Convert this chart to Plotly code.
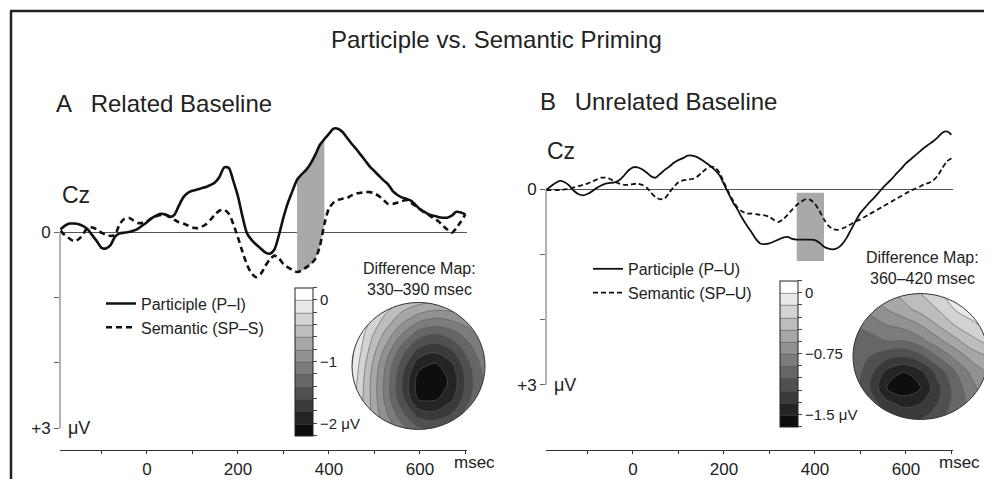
import plotly.graph_objects as go

# the page adds an 8px body margin, so the figure is drawn 16px smaller
PAGE_W, PAGE_H, OFF = 992, 487, 8
W, H = PAGE_W - 2 * OFF, PAGE_H - 2 * OFF

# ---------------- data ----------------
TIME_MS = list(range(-190, 701, 10))

A_PARTICIPLE = [-0.04, -0.10, -0.13, -0.13, -0.12, -0.09, -0.04, 0.05, 0.14, 0.24,
                0.25, 0.20, 0.07, 0.02, 0.01, 0.00, -0.02, -0.05, -0.10, -0.15,
                -0.21, -0.25, -0.28, -0.27, -0.23, -0.26, -0.40, -0.53, -0.60, -0.63,
                -0.65, -0.67, -0.69, -0.72, -0.76, -0.85, -0.99, -0.98, -0.78, -0.55,
                -0.24, 0.02, 0.12, 0.19, 0.25, 0.31, 0.33, 0.27, 0.05, -0.22,
                -0.45, -0.63, -0.80, -0.88, -0.95, -1.05, -1.18, -1.33, -1.42, -1.50,
                -1.58, -1.58, -1.53, -1.44, -1.35, -1.27, -1.18, -1.09, -1.00, -0.93,
                -0.86, -0.79, -0.73, -0.63, -0.57, -0.53, -0.51, -0.48, -0.42, -0.35,
                -0.31, -0.27, -0.25, -0.23, -0.22, -0.22, -0.25, -0.31, -0.30, -0.27]

A_SEMANTIC = [-0.02, 0.05, 0.10, 0.14, 0.11, 0.03, -0.07, -0.07, -0.04, 0.01,
              0.04, 0.06, 0.04, -0.12, -0.20, -0.22, -0.18, -0.14, -0.14, -0.16,
              -0.21, -0.24, -0.26, -0.27, -0.24, -0.19, -0.15, -0.13, -0.10, -0.07,
              -0.06, -0.08, -0.12, -0.19, -0.27, -0.33, -0.34, -0.28, -0.12, 0.08,
              0.30, 0.50, 0.63, 0.69, 0.64, 0.52, 0.42, 0.36, 0.40, 0.49,
              0.54, 0.58, 0.61, 0.59, 0.54, 0.49, 0.41, 0.22, -0.12, -0.36,
              -0.45, -0.49, -0.51, -0.52, -0.56, -0.59, -0.60, -0.61, -0.61, -0.59,
              -0.55, -0.49, -0.43, -0.43, -0.45, -0.47, -0.49, -0.45, -0.40, -0.35,
              -0.30, -0.26, -0.21, -0.17, -0.10, -0.04, 0.01, -0.06, -0.16, -0.27]

B_PARTICIPLE = [0.00, -0.05, -0.10, -0.13, -0.11, -0.06, 0.02, 0.07, 0.09, 0.07,
                0.03, -0.02, -0.06, -0.09, -0.10, -0.11, -0.14, -0.21, -0.29, -0.34,
                -0.34, -0.31, -0.26, -0.20, -0.18, -0.24, -0.30, -0.35, -0.41, -0.45,
                -0.48, -0.52, -0.52, -0.50, -0.46, -0.41, -0.36, -0.30, -0.22, -0.08,
                0.06, 0.20, 0.31, 0.44, 0.55, 0.65, 0.76, 0.83, 0.84, 0.83,
                0.80, 0.77, 0.74, 0.73, 0.76, 0.77, 0.77, 0.77, 0.77, 0.78,
                0.82, 0.88, 0.91, 0.92, 0.90, 0.84, 0.74, 0.61, 0.48, 0.36,
                0.28, 0.20, 0.13, 0.05, -0.03, -0.10, -0.17, -0.25, -0.32, -0.40,
                -0.46, -0.52, -0.58, -0.64, -0.69, -0.74, -0.80, -0.87, -0.89, -0.84]

B_SEMANTIC = [0.01, 0.01, 0.01, 0.01, 0.00, -0.01, -0.03, -0.05, -0.07, -0.09,
              -0.12, -0.15, -0.18, -0.18, -0.16, -0.12, -0.09, -0.07, -0.07, -0.08,
              -0.09, -0.07, -0.03, 0.05, 0.12, 0.15, 0.14, 0.05, -0.04, -0.11,
              -0.14, -0.15, -0.16, -0.19, -0.25, -0.31, -0.35, -0.34, -0.26, -0.11,
              0.04, 0.17, 0.28, 0.34, 0.37, 0.37, 0.38, 0.39, 0.40, 0.42,
              0.47, 0.50, 0.46, 0.39, 0.31, 0.24, 0.19, 0.15, 0.16, 0.22,
              0.33, 0.46, 0.56, 0.61, 0.62, 0.60, 0.57, 0.53, 0.49, 0.46,
              0.42, 0.38, 0.34, 0.30, 0.26, 0.22, 0.18, 0.14, 0.10, 0.06,
              0.02, -0.01, -0.04, -0.08, -0.10, -0.14, -0.21, -0.33, -0.43, -0.48]

SHADE_A_WINDOW = (330, 390)
SHADE_B_WINDOW = (360, 420)
SHADE_B_RANGE = (0.05, 1.10)

X_TICKS = [-100, 0, 100, 200, 300, 400, 500, 600, 700]
X_TICK_TEXT = ["", "0", "", "200", "", "400", "", "600", ""]
Y_TICKS = [0, 1, 2, 3]
Y_TICK_TEXT = ["0", "", "", "+3"]

# topographic difference maps (grid; rows top -> bottom)
MAP_U = [-1, -0.75, -0.5, -0.25, 0, 0.25, 0.5, 0.75, 1]
MAP_V = [1, 0.75, 0.5, 0.25, 0, -0.25, -0.5, -0.75, -1]
MAP_A = [
    [0.15, 0.00, -0.25, -0.45, -0.55, -0.60, -0.60, -0.60, -0.55],
    [0.15, -0.15, -0.45, -0.70, -0.90, -1.00, -0.95, -0.85, -0.75],
    [0.10, -0.30, -0.65, -1.00, -1.30, -1.40, -1.30, -1.10, -0.90],
    [0.05, -0.40, -0.85, -1.30, -1.65, -1.75, -1.60, -1.30, -1.00],
    [0.00, -0.50, -1.00, -1.50, -1.95, -2.05, -1.85, -1.45, -1.10],
    [-0.05, -0.55, -1.05, -1.60, -2.10, -2.15, -1.95, -1.50, -1.15],
    [-0.10, -0.55, -1.05, -1.55, -2.05, -2.05, -1.85, -1.45, -1.10],
    [-0.20, -0.55, -0.95, -1.35, -1.70, -1.75, -1.60, -1.30, -1.05],
    [-0.30, -0.55, -0.85, -1.10, -1.35, -1.40, -1.30, -1.15, -0.95],
]
MAP_B = [
    [-0.70, -0.60, -0.50, -0.40, -0.30, -0.20, -0.05, 0.05, 0.10],
    [-0.80, -0.70, -0.60, -0.50, -0.40, -0.30, -0.15, -0.05, 0.00],
    [-0.90, -0.85, -0.75, -0.70, -0.60, -0.45, -0.30, -0.20, -0.10],
    [-0.95, -0.95, -0.90, -0.90, -0.80, -0.65, -0.50, -0.35, -0.25],
    [-1.00, -1.05, -1.15, -1.20, -1.10, -0.90, -0.72, -0.55, -0.45],
    [-0.95, -1.15, -1.40, -1.50, -1.40, -1.15, -0.92, -0.72, -0.58],
    [-0.95, -1.20, -1.50, -1.60, -1.50, -1.25, -1.00, -0.80, -0.65],
    [-0.90, -1.10, -1.30, -1.40, -1.35, -1.20, -1.00, -0.85, -0.70],
    [-0.85, -1.00, -1.15, -1.20, -1.20, -1.10, -0.95, -0.85, -0.75],
]
CB_A_LEVELS = dict(start=-2.0, end=0.0, size=0.2)
CB_A_LABELS = {0.0: "0", -1.0: "\u22121", -2.0: "\u22122 \u03bcV"}
CB_B_LEVELS = dict(start=-1.5, end=0.0, size=0.15)
CB_B_LABELS = {0.0: "0", -0.75: "\u22120.75", -1.5: "\u22121.5 \u03bcV"}

# ---------------- helpers ----------------
FONT = "Arial, 'Liberation Sans', Helvetica, sans-serif"
INK = "#222222"


def px(xp):
    return min(max((xp - OFF) / W, 0.0), 1.0)


def py(yp):
    return min(max(1 - (yp - OFF) / H, 0.0), 1.0)


fig = go.Figure()

# panel geometry (page pixels)
A_X = (60, 467)
B_X = (546, 953)
X_RANGE = [-191, 703.5]
A_Y = (120, 454)
A_YRANGE = [3.333, -1.727]
B_Y = (110, 454)
B_YRANGE = [4.005, -1.233]


def subset(vals, window):
    return [v for t, v in zip(TIME_MS, vals) if window[0] <= t <= window[1]]


t_shade = [t for t in TIME_MS if SHADE_A_WINDOW[0] <= t <= SHADE_A_WINDOW[1]]

# shaded area between curves, panel A
fig.add_trace(go.Scatter(x=t_shade, y=subset(A_SEMANTIC, SHADE_A_WINDOW), mode="lines",
                         line=dict(width=0, shape="spline", smoothing=0.7), showlegend=False,
                         hoverinfo="skip", xaxis="x", yaxis="y"))
fig.add_trace(go.Scatter(x=t_shade, y=subset(A_PARTICIPLE, SHADE_A_WINDOW), mode="lines",
                         line=dict(width=0, shape="spline", smoothing=0.7), fill="tonexty",
                         fillcolor="#a9a9a9", showlegend=False, hoverinfo="skip",
                         xaxis="x", yaxis="y"))

# panel A curves
fig.add_trace(go.Scatter(x=TIME_MS, y=A_PARTICIPLE, mode="lines", name="Participle (P\u2013I)",
                         line=dict(color="#111", width=2.6, shape="spline", smoothing=0.7),
                         xaxis="x", yaxis="y", legend="legend"))
fig.add_trace(go.Scatter(x=TIME_MS, y=A_SEMANTIC, mode="lines", name="Semantic (SP\u2013S)",
                         line=dict(color="#111", width=2.6, dash="6px,4px", shape="spline",
                                   smoothing=0.7),
                         xaxis="x", yaxis="y", legend="legend"))

# panel B curves
fig.add_trace(go.Scatter(x=TIME_MS, y=B_PARTICIPLE, mode="lines", name="Participle (P\u2013U)",
                         line=dict(color="#111", width=1.8, shape="spline", smoothing=0.7),
                         xaxis="x2", yaxis="y2", legend="legend2"))
fig.add_trace(go.Scatter(x=TIME_MS, y=B_SEMANTIC, mode="lines", name="Semantic (SP\u2013U)",
                         line=dict(color="#111", width=1.8, dash="5px,3px", shape="spline",
                                   smoothing=0.7),
                         xaxis="x2", yaxis="y2", legend="legend2"))

GRAY = [[0, "#0e0e0e"], [1, "#ffffff"]]


def cb_ticks(levels, labels):
    vals, texts = [], []
    n = int(round((levels["end"] - levels["start"]) / levels["size"])) + 3
    for i in range(n):
        v = round(levels["start"] - levels["size"] + i * levels["size"], 4)
        vals.append(v)
        lab = ""
        for k, s in labels.items():
            if abs(k - v) < 1e-6:
                lab = s
        texts.append(lab)
    return vals, texts


for (zmap, levels, labels, xa, ya, cbx, cby, cblen) in [
    (MAP_A, CB_A_LEVELS, CB_A_LABELS, "x3", "y3", 295, 290, 148),
    (MAP_B, CB_B_LEVELS, CB_B_LABELS, "x4", "y4", 780, 283, 146),
]:
    tv, tt = cb_ticks(levels, labels)
    fig.add_trace(go.Contour(
        x=MAP_U, y=MAP_V[::-1], z=zmap[::-1], xaxis=xa, yaxis=ya,
        colorscale=GRAY, zauto=False,
        zmin=levels["start"] - levels["size"], zmax=levels["end"] + levels["size"],
        autocontour=False,
        contours=dict(start=levels["start"], end=levels["end"], size=levels["size"],
                      coloring="fill"),
        line=dict(color="#5a5a5a", width=0.6),
        hoverinfo="skip",
        colorbar=dict(x=px(cbx), xanchor="left", y=py(cby), yanchor="top",
                      len=cblen, lenmode="pixels", thickness=18, thicknessmode="pixels",
                      xpad=0, ypad=0, outlinewidth=1, outlinecolor=INK,
                      tickmode="array", tickvals=tv, ticktext=tt, ticks="outside",
                      ticklen=4, tickcolor="#444", tickwidth=1,
                      tickfont=dict(family=FONT, size=15, color=INK)),
    ))

axis_common = dict(showgrid=False, color=INK)
xaxis_style = dict(range=X_RANGE, showline=True, linecolor="#333", linewidth=1.2,
                   zeroline=False, tickmode="array", tickvals=X_TICKS, ticktext=X_TICK_TEXT,
                   ticks="outside", ticklen=3, tickcolor="#333", ticklabelstandoff=0,
                   tickfont=dict(size=17, family=FONT, color=INK), **axis_common)
yaxis_style = dict(showline=False, zeroline=True, zerolinecolor="#555", zerolinewidth=1,
                   tickmode="array", tickvals=Y_TICKS, ticktext=Y_TICK_TEXT,
                   ticks="outside", ticklen=5, tickcolor="#666",
                   tickfont=dict(size=17, family=FONT, color=INK), **axis_common)


def map_axes(box, pad=1.08):
    """box = (left, right, top, bottom) of the head circle in page pixels."""
    cx, rx = (box[0] + box[1]) / 2, (box[1] - box[0]) / 2
    cy, ry = (box[2] + box[3]) / 2, (box[3] - box[2]) / 2
    left, right = max(cx - pad * rx, OFF), min(cx + pad * rx, OFF + W)
    top, bottom = max(cy - pad * ry, OFF), min(cy + pad * ry, OFF + H)
    xa = dict(domain=[px(left), px(right)], range=[(left - cx) / rx, (right - cx) / rx],
              visible=False)
    ya = dict(domain=[py(bottom), py(top)], range=[(cy - bottom) / ry, (cy - top) / ry],
              visible=False)
    return xa, ya


xa3, ya3 = map_axes((352, 485, 305, 433))
xa4, ya4 = map_axes((853, 988, 296, 423))

fig.update_layout(
    width=W, height=H, margin=dict(l=0, r=0, t=0, b=0),
    paper_bgcolor="white", plot_bgcolor="rgba(0,0,0,0)",
    font=dict(family=FONT, color=INK),
    xaxis=dict(domain=[px(A_X[0]), px(A_X[1])], anchor="y", **xaxis_style),
    yaxis=dict(domain=[py(A_Y[1]), py(A_Y[0])], range=A_YRANGE, anchor="x", **yaxis_style),
    xaxis2=dict(domain=[px(B_X[0]), px(B_X[1])], anchor="y2", **xaxis_style),
    yaxis2=dict(domain=[py(B_Y[1]), py(B_Y[0])], range=B_YRANGE, anchor="x2", **yaxis_style),
    xaxis3=xa3, yaxis3=ya3, xaxis4=xa4, yaxis4=ya4,
    legend=dict(x=px(101), y=py(289), xanchor="left", yanchor="top", traceorder="normal",
                bgcolor="rgba(0,0,0,0)", itemwidth=30, tracegroupgap=0,
                font=dict(family=FONT, size=16, color=INK)),
    legend2=dict(x=px(588), y=py(254), xanchor="left", yanchor="top", traceorder="normal",
                 bgcolor="rgba(0,0,0,0)", itemwidth=30, tracegroupgap=0,
                 font=dict(family=FONT, size=16, color=INK)),
    showlegend=True,
)

# y-axis spines only from 0 to +3 and shaded window of panel B
shapes = [
    dict(type="line", xref="x domain", yref="y", x0=0, x1=0, y0=0, y1=3,
         line=dict(color="#666", width=1)),
    dict(type="line", xref="x2 domain", yref="y2", x0=0, x1=0, y0=0, y1=3,
         line=dict(color="#666", width=1)),
    dict(type="rect", xref="x2", yref="y2", x0=SHADE_B_WINDOW[0], x1=SHADE_B_WINDOW[1],
         y0=SHADE_B_RANGE[0], y1=SHADE_B_RANGE[1], fillcolor="#a9a9a9",
         line=dict(width=0), layer="below"),
    # frame
    dict(type="line", xref="paper", yref="paper", x0=(11 - OFF) / W, x1=(11 - OFF) / W,
         y0=-0.1, y1=1 - (11 - OFF) / H, line=dict(color=INK, width=2.5)),
    dict(type="line", xref="paper", yref="paper", x0=(10 - OFF) / W, x1=1.1,
         y0=1 - (11 - OFF) / H, y1=1 - (11 - OFF) / H, line=dict(color=INK, width=2.5)),
]
k = 0.5523
circle_path = (f"M 1,0 C 1,{k} {k},1 0,1 C -{k},1 -1,{k} -1,0 "
               f"C -1,-{k} -{k},-1 0,-1 C {k},-1 1,-{k} 1,0 Z")
for xa, ya in [("x3", "y3"), ("x4", "y4")]:
    shapes.append(dict(type="path", xref=xa, yref=ya,
                       path="M -1.5,-1.5 L 1.5,-1.5 L 1.5,1.5 L -1.5,1.5 Z " + circle_path,
                       fillcolor="white", fillrule="evenodd", line=dict(width=0),
                       layer="above"))
    shapes.append(dict(type="path", xref=xa, yref=ya, path=circle_path,
                       line=dict(color="#333", width=1), layer="above"))
fig.update_layout(shapes=shapes)


def ann(text, x, y, size, xanchor="center", yanchor="middle"):
    fig.add_annotation(text=text, x=px(x), y=py(y), xref="paper", yref="paper",
                       showarrow=False, xanchor=xanchor, yanchor=yanchor,
                       font=dict(family=FONT, size=size, color=INK))


ann("Participle vs. Semantic Priming", 496, 40, 24)
ann("A\u2002 Related Baseline", 54, 104, 24, xanchor="left")
ann("B\u2002 Unrelated Baseline", 538, 102, 24, xanchor="left")
ann("Cz", 76, 197, 23)
ann("Cz", 561, 152, 23)
ann("\u03bcV", 66, 432, 18, xanchor="left")
ann("\u03bcV", 552, 388, 18, xanchor="left")
ann("msec", 474, 466, 17)
ann("msec", 959, 466, 17)
ann("Difference Map:", 419, 271, 16)
ann("330\u2013390 msec", 419, 292, 16)
ann("Difference Map:", 922, 260, 16)
ann("360\u2013420 msec", 922, 281, 16)

fig.write_html("out.html")
